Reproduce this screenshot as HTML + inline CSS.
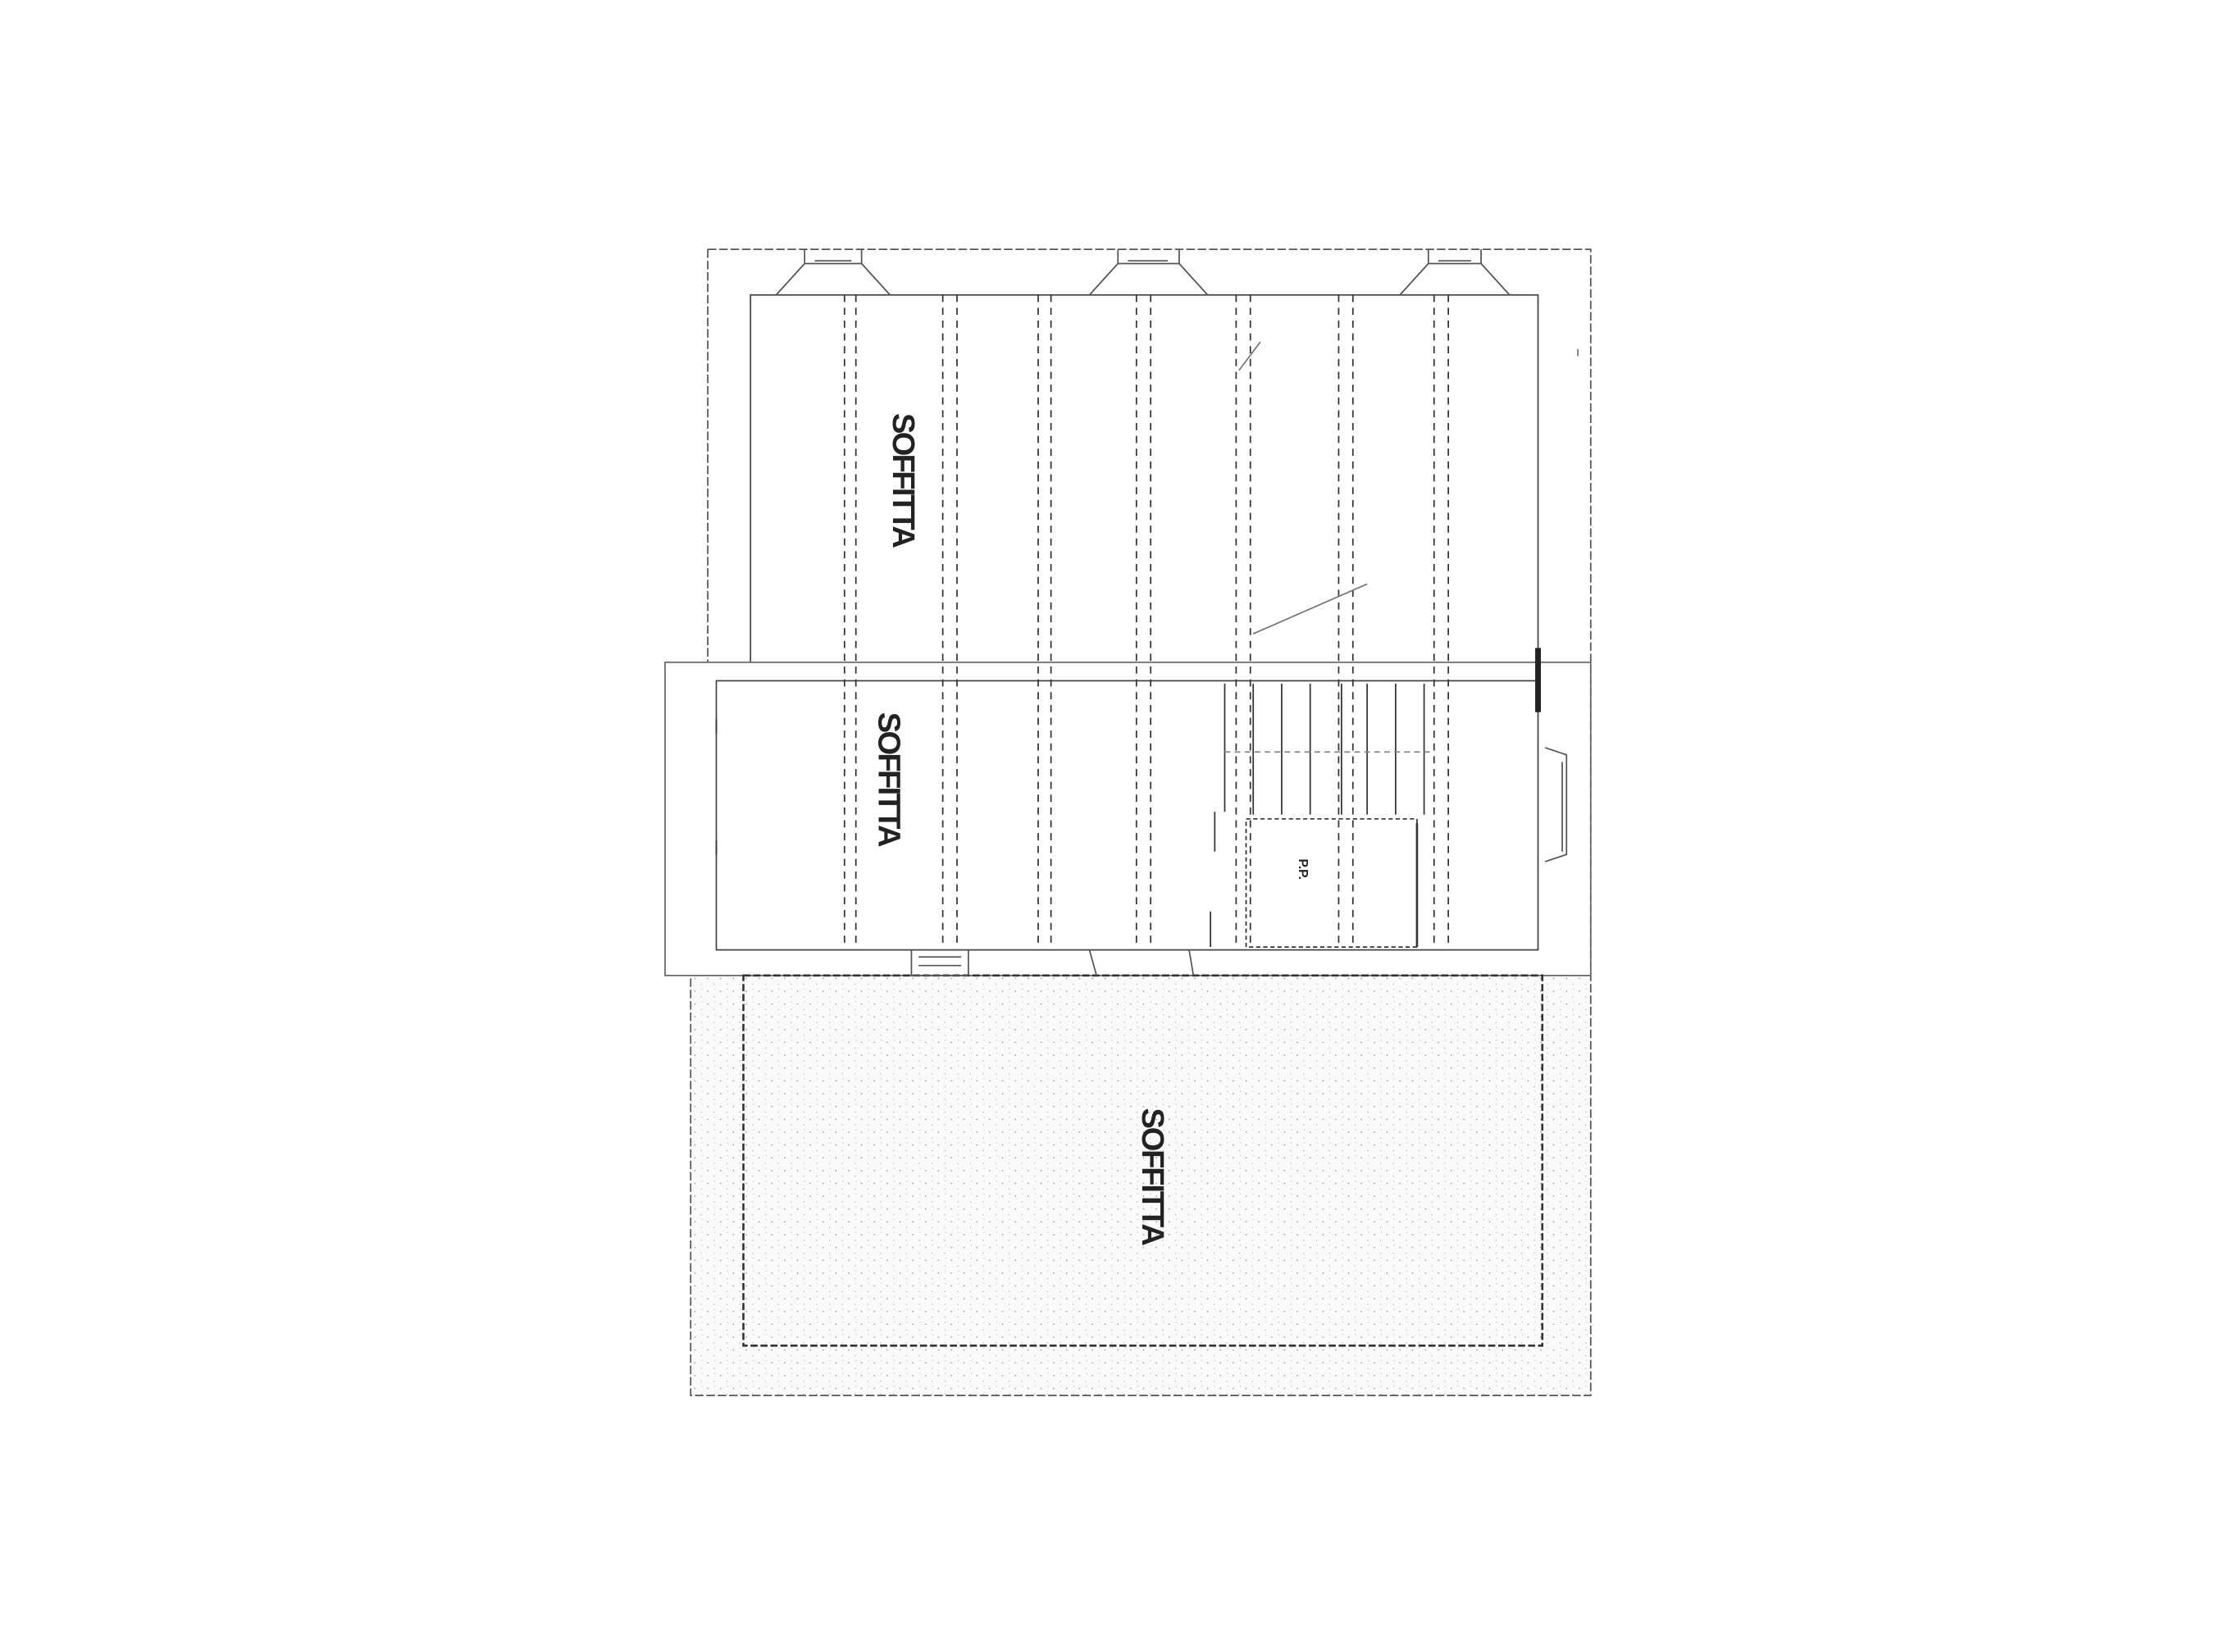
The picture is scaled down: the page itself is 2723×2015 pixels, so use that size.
<!DOCTYPE html>
<html><head><meta charset="utf-8"><style>
html,body{margin:0;padding:0;background:#fff;}
svg{display:block}
</style></head><body>
<svg width="2723" height="2015" viewBox="0 0 1568 1160" xmlns="http://www.w3.org/2000/svg">
<defs>
<pattern id="sp" width="9" height="9" patternUnits="userSpaceOnUse">
<rect width="9" height="9" fill="#fafafa"/>
<circle cx="2" cy="3" r="0.5" fill="#999"/>
<circle cx="6.5" cy="7" r="0.4" fill="#aaa"/>
<circle cx="7" cy="1.5" r="0.35" fill="#bbb"/>
</pattern>
</defs>
<g fill="none" stroke="#555" stroke-width="1">
<!-- lower speckled area -->
<rect x="486" y="685" width="631" height="295" fill="url(#sp)" stroke="none"/>
<!-- outer -->
<path d="M497 175 H1117 V980 H485 V685" stroke-dasharray="6 2"/>
<path d="M497 175 V465" stroke-dasharray="6 2"/>
<!-- middle band -->
<rect x="467" y="465" width="650" height="220" stroke="#666"/>
<!-- upper inner -->
<path d="M527 465 V207 H1080 V667 H503 V478 H1080" stroke="#444"/>
<!-- lower inner dashed -->
<rect x="522" y="685" width="561" height="260" stroke="#333" stroke-width="1.5" stroke-dasharray="5 2"/>
<!-- windows -->
<g stroke="#555">
<path d="M545 207 L565 185 H605 L625 207 M565 185 V175 M605 185 V175 M572 183 H598"/>
<path d="M765 207 L785 185 H828 L848 207 M785 185 V175 M828 185 V175 M792 183 H820"/>
<path d="M983 207 L1003 185 H1040 L1060 207 M1003 185 V175 M1040 185 V175 M1010 183 H1033"/>
<path d="M640 667 V685 H680 V667 M645 672 H675 M645 678 H675"/>
<path d="M765 667 L770 685 M835 667 L838 685"/>
</g>
<!-- dashed beams -->
<g stroke="#333" stroke-dasharray="5 4">
<path d="M593 207 V665 M601 207 V665"/>
<path d="M662 207 V665 M672 207 V665"/>
<path d="M729 207 V665 M738 207 V665"/>
<path d="M798 207 V665 M808 207 V665"/>
<path d="M868 207 V665 M878 207 V665"/>
<path d="M940 207 V665 M950 207 V665"/>
<path d="M1007 207 V665 M1017 207 V665"/>
</g>
<!-- stairs -->
<g stroke="#333">
<path d="M860 480 V570 M880 480 V572 M900 480 V572 M920 480 V572 M942 480 V572 M960 480 V572 M980 480 V572 M1000 480 V572"/>
<path d="M860 528 H1005" stroke-dasharray="4 3" stroke="#888"/>
<rect x="875" y="575" width="120" height="90" stroke-dasharray="3 2"/>
<path d="M995 578 V665" stroke-width="1.5"/>
<path d="M853 570 V598 M850 640 V665"/>
</g>
<!-- right side details -->
<path d="M1080 455 V500" stroke="#222" stroke-width="4"/>
<path d="M1085 525 L1100 530 V600 L1085 605 M1097 535 V598" stroke="#555"/>
<path d="M1108 245 V250 M870 260 L885 240 M880 445 L960 410" stroke="#777"/>
<path d="M503 505 V515 M503 590 V600" stroke="#333"/>
</g>
<g font-family="Liberation Sans, sans-serif" font-weight="bold" fill="#222">
<text transform="translate(627,290) rotate(90)" font-size="22" textLength="95">SOFFITTA</text>
<text transform="translate(617,500) rotate(90)" font-size="22" textLength="95">SOFFITTA</text>
<text transform="translate(802,778) rotate(90)" font-size="22" textLength="97">SOFFITTA</text>
<text transform="translate(912,603) rotate(90)" font-size="9">P.P.</text>
</g>
</svg>
</body></html>
